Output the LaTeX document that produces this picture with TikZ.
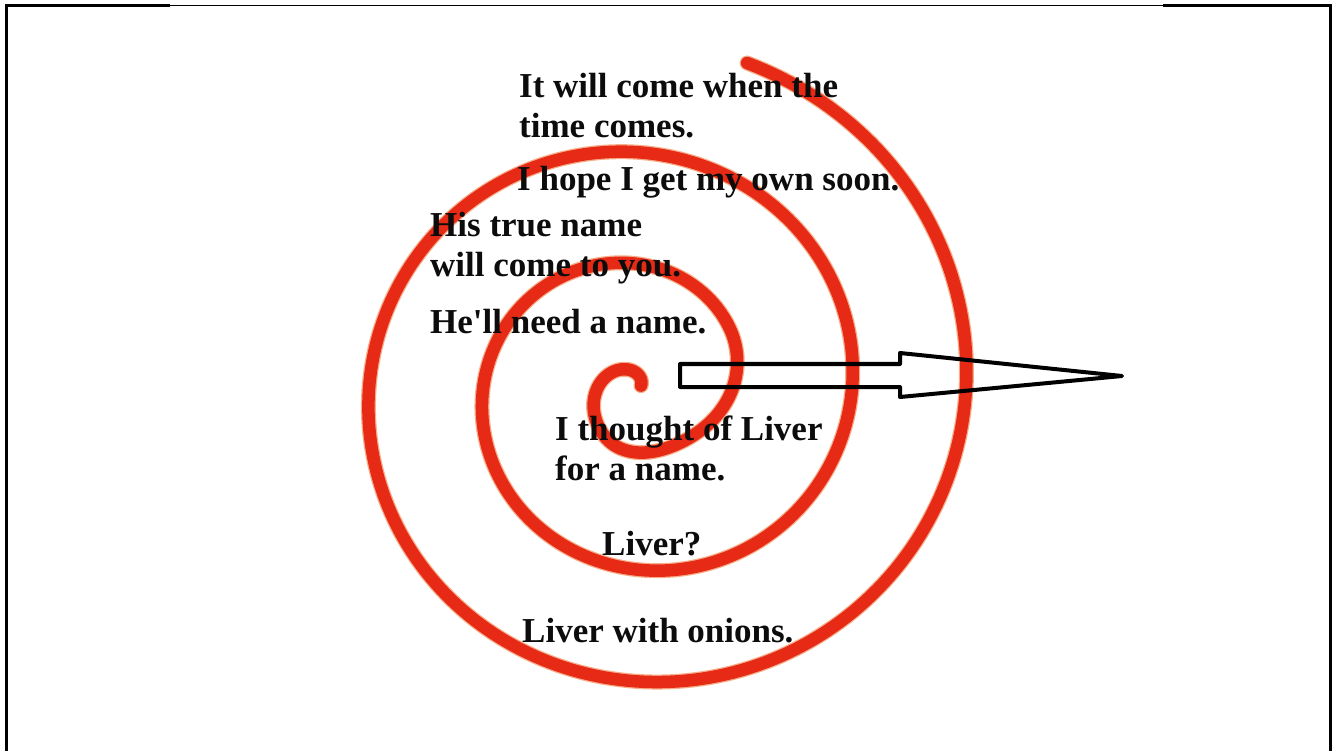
\documentclass[tikz,border=0pt]{standalone}
\usepackage{fontspec}
\setmainfont{Liberation Serif}[Ligatures=TeXOff]
\definecolor{spiralred}{RGB}{230,42,22}
\definecolor{spiralhalo}{RGB}{240,120,60}
\definecolor{ink}{RGB}{12,12,12}
\begin{document}
\begin{tikzpicture}[x=1pt,y=-1pt,
  lbl/.style={anchor=base west,inner sep=0pt,font=\fontsize{35}{40}\selectfont\bfseries,text=ink},
  frame/.style={line width=3pt,line join=miter,draw=black},
  halo/.style={line width=15pt,line cap=round,draw=spiralhalo,opacity=0.6},
  core/.style={line width=12.5pt,line cap=round,draw=spiralred},
  blockarrow/.style={line width=4pt,line join=round,draw=black},
  declare function={rr(\t)=99+\t/360*114-7*(1+cos(min(180,2.25*abs(\t+45))));}]
\useasboundingbox (0,0) rectangle (1339,751);
% frame
\draw[frame] (6,751) -- (6,6) -- (170,6);
\draw[line width=1pt] (170,5.5) -- (1163,5.5);
\draw[frame] (1163,6) -- (1330,6) -- (1330,751);
% spiral
\foreach \sty in {halo,core}{
\draw[\sty] plot[domain=-300:792,samples=700,variable=\t]
 ({639+rr(\t)*cos(\t)},{389-0.98*rr(\t)*sin(\t)});
}
% block arrow
\coordinate (a1) at (680,364);
\coordinate (a2) at (900,364);
\coordinate (a3) at (900,353);
\coordinate (tip) at (1122,376);
\coordinate (a5) at (900,397);
\coordinate (a6) at (900,387);
\coordinate (a7) at (680,387);
\draw[blockarrow] (a1) -- (a2) -- (a3) -- (tip) -- (a5) -- (a6) -- (a7) -- cycle;
% texts
\node[lbl] (t1a) at (519,98) {It will come when the};
\node[lbl] (t1b) at (519,138) {time comes.};
\node[lbl] (t2) at (517,191) {I hope I get my own soon.};
\node[lbl] (t3a) at (430,237) {His true name};
\node[lbl] (t3b) at (430,277) {will come to you.};
\node[lbl] (t4) at (430,334) {He'll need a name.};
\node[lbl] (t5a) at (555,440) {I thought of Liver};
\node[lbl] (t5b) at (555,480) {for a name.};
\node[lbl] (t6) at (602,555) {Liver?};
\node[lbl] (t7) at (522,642) {Liver with onions.};
\end{tikzpicture}
\end{document}
